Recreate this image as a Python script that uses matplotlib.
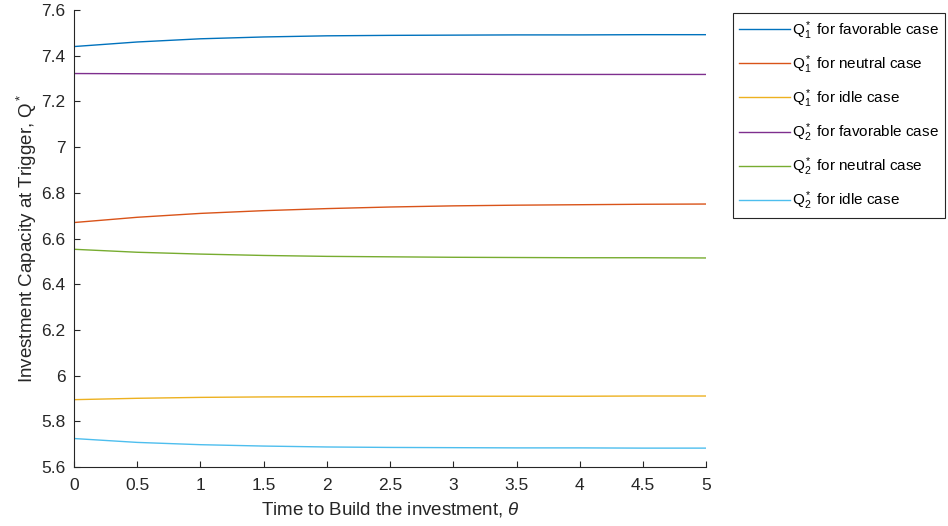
import matplotlib.pyplot as plt

plt.rcParams['font.family'] = ['Liberation Sans', 'DejaVu Sans']
plt.rcParams['mathtext.fontset'] = 'custom'
plt.rcParams['mathtext.rm'] = 'Liberation Sans'
plt.rcParams['mathtext.it'] = 'Liberation Sans:italic'

theta = [0, 0.5, 1, 1.5, 2, 2.5, 3, 3.5, 4, 4.5, 5]

q1_fav = [7.440, 7.460, 7.474, 7.482, 7.487, 7.489, 7.490, 7.491, 7.491, 7.492, 7.492]
q1_neu = [6.670, 6.693, 6.710, 6.722, 6.731, 6.738, 6.743, 6.746, 6.748, 6.750, 6.751]
q1_idle = [5.895, 5.901, 5.905, 5.907, 5.908, 5.909, 5.910, 5.910, 5.910, 5.911, 5.911]
q2_fav = [7.322, 7.321, 7.320, 7.320, 7.319, 7.319, 7.319, 7.318, 7.318, 7.318, 7.318]
q2_neu = [6.553, 6.540, 6.532, 6.526, 6.522, 6.520, 6.518, 6.517, 6.516, 6.516, 6.515]
q2_idle = [5.725, 5.708, 5.698, 5.692, 5.688, 5.686, 5.685, 5.684, 5.684, 5.683, 5.683]

series = [q1_fav, q1_neu, q1_idle, q2_fav, q2_neu, q2_idle]
labels = [r'Q$_1^*$ for favorable case', r'Q$_1^*$ for neutral case', r'Q$_1^*$ for idle case',
          r'Q$_2^*$ for favorable case', r'Q$_2^*$ for neutral case', r'Q$_2^*$ for idle case']
colors = ['#0072BD', '#D95319', '#EDB120', '#7E2F8E', '#77AC30', '#4DBEEE']

fig = plt.figure(figsize=(9.48, 5.26), dpi=100)
ax = fig.add_axes([0.078, 0.112, 0.667, 0.869])

for y, lab, c in zip(series, labels, colors):
    ax.plot(theta, y, color=c, linewidth=1.0, label=lab)

ax.set_xlim(0, 5)
ax.set_ylim(5.6, 7.6)
ax.set_xticks([0, 0.5, 1, 1.5, 2, 2.5, 3, 3.5, 4, 4.5, 5])
ax.set_xticklabels(['0', '0.5', '1', '1.5', '2', '2.5', '3', '3.5', '4', '4.5', '5'])
ax.set_yticks([5.6, 5.8, 6, 6.2, 6.4, 6.6, 6.8, 7, 7.2, 7.4, 7.6])
ax.set_yticklabels(['5.6', '5.8', '6', '6.2', '6.4', '6.6', '6.8', '7', '7.2', '7.4', '7.6'])
ax.tick_params(direction='in', length=4, width=0.8, labelsize=12.5, colors='#262626')
ax.tick_params(axis='x', pad=8)
ax.tick_params(axis='y', pad=6)
ax.spines['top'].set_visible(False)
ax.spines['right'].set_visible(False)
for s in ['left', 'bottom']:
    ax.spines[s].set_color('#262626')
    ax.spines[s].set_linewidth(0.8)

ax.set_xlabel(r'Time to Build the investment, $\theta$', fontsize=13.5, color='#262626', labelpad=5)
ax.set_ylabel(r'Investment Capacity at Trigger, Q$^*$', fontsize=13.5, color='#262626', labelpad=2)

leg = fig.legend(loc='upper left', bbox_to_anchor=(733 / 948, 1 - 13 / 526), fontsize=11,
                 handlelength=3.3, handletextpad=0.15, labelspacing=0.75,
                 borderaxespad=0, borderpad=0.4, fancybox=False, framealpha=1)
leg.get_frame().set_edgecolor('#262626')
leg.get_frame().set_linewidth(0.8)

fig.savefig('out.png', dpi=100)
